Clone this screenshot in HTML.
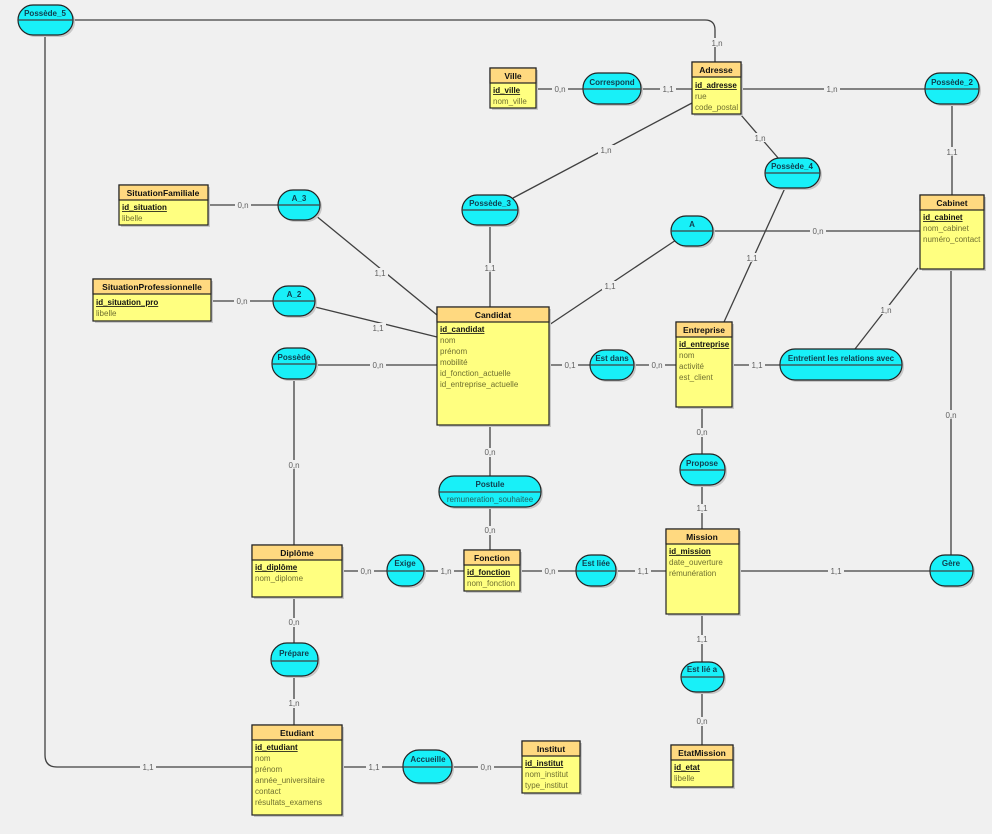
<!DOCTYPE html>
<html><head><meta charset="utf-8"><style>
html,body{margin:0;padding:0;background:#f0f0f0;}
svg{display:block;font-family:"Liberation Sans",sans-serif;}
.ln{stroke:#404040;stroke-width:1.3;fill:none}
.lb{font-size:8px;fill:#606060;text-anchor:middle}
.eh{fill:#ffd980;stroke:#222;stroke-width:1.2}
.eb{fill:#ffff80;stroke:#222;stroke-width:1.2}
.et{font-size:8.5px;font-weight:bold;fill:#111;text-anchor:middle}
.pk{font-size:8px;font-weight:bold;fill:#111;text-decoration:underline}
.at{font-size:8px;fill:#707030}
.rl{fill:#18f0f8;stroke:#222;stroke-width:1.2}
.rt{font-size:8px;font-weight:bold;fill:#104050;text-anchor:middle}
.sh{fill:#c8c8c8}
</style></head><body>
<svg width="992" height="834" viewBox="0 0 992 834">
<rect x="0" y="0" width="992" height="834" fill="#f0f0f0"/>
<!-- connectors -->
<g class="ln">
<path d="M73 20 H705 Q715 20 715 30 V62"/>
<path d="M45 35 V755 Q45 767 57 767 H252"/>
<path d="M536 89 H583"/><path d="M641 89 H692"/>
<path d="M741 89 H925"/><path d="M952 104 V195"/>
<path d="M741 115 L779 159"/><path d="M692 103 L513 198"/>
<path d="M490 225 V307"/><path d="M676 240 L549 325"/>
<path d="M713 231 H920"/><path d="M785 188 L724 322"/>
<path d="M918 268 L855 349"/><path d="M951 268 V555"/>
<path d="M315 215 L437 315"/><path d="M208 205 H278"/>
<path d="M211 301 H273"/><path d="M315 307 L437 337"/>
<path d="M316 365 H437"/><path d="M294 380 V545"/>
<path d="M549 365 H590"/><path d="M634 365 H676"/>
<path d="M732 365 H780"/><path d="M702 407 V454"/>
<path d="M702 485 V529"/><path d="M490 425 V476"/>
<path d="M490 507 V550"/><path d="M342 571 H387"/>
<path d="M424 571 H464"/><path d="M520 571 H576"/>
<path d="M616 571 H666"/><path d="M739 571 H930"/>
<path d="M702 614 V662"/><path d="M702 692 V745"/>
<path d="M294 597 V643"/><path d="M294 676 V725"/>
<path d="M342 767 H403"/><path d="M452 767 H522"/>
</g>
<!-- labels -->
<g>
<rect x="708" y="38" width="16" height="9" fill="#f0f0f0"/><text class="lb" x="717" y="46">1,n</text>
<rect x="140" y="763" width="16" height="9" fill="#f0f0f0"/><text class="lb" x="148" y="770">1,1</text>
<rect x="552" y="85" width="16" height="9" fill="#f0f0f0"/><text class="lb" x="560" y="92">0,n</text>
<rect x="660" y="85" width="16" height="9" fill="#f0f0f0"/><text class="lb" x="668" y="92">1,1</text>
<rect x="824" y="85" width="16" height="9" fill="#f0f0f0"/><text class="lb" x="832" y="92">1,n</text>
<rect x="944" y="147" width="16" height="9" fill="#f0f0f0"/><text class="lb" x="952" y="155">1,1</text>
<rect x="752" y="133" width="16" height="9" fill="#f0f0f0"/><text class="lb" x="760" y="141">1,n</text>
<rect x="598" y="145" width="16" height="9" fill="#f0f0f0"/><text class="lb" x="606" y="153">1,n</text>
<rect x="482" y="263" width="16" height="9" fill="#f0f0f0"/><text class="lb" x="490" y="271">1,1</text>
<rect x="602" y="281" width="16" height="9" fill="#f0f0f0"/><text class="lb" x="610" y="289">1,1</text>
<rect x="810" y="227" width="16" height="9" fill="#f0f0f0"/><text class="lb" x="818" y="234">0,n</text>
<rect x="744" y="253" width="16" height="9" fill="#f0f0f0"/><text class="lb" x="752" y="261">1,1</text>
<rect x="878" y="305" width="16" height="9" fill="#f0f0f0"/><text class="lb" x="886" y="313">1,n</text>
<rect x="943" y="410" width="16" height="9" fill="#f0f0f0"/><text class="lb" x="951" y="418">0,n</text>
<rect x="372" y="268" width="16" height="9" fill="#f0f0f0"/><text class="lb" x="380" y="276">1,1</text>
<rect x="235" y="201" width="16" height="9" fill="#f0f0f0"/><text class="lb" x="243" y="208">0,n</text>
<rect x="234" y="297" width="16" height="9" fill="#f0f0f0"/><text class="lb" x="242" y="304">0,n</text>
<rect x="370" y="323" width="16" height="9" fill="#f0f0f0"/><text class="lb" x="378" y="331">1,1</text>
<rect x="370" y="361" width="16" height="9" fill="#f0f0f0"/><text class="lb" x="378" y="368">0,n</text>
<rect x="286" y="460" width="16" height="9" fill="#f0f0f0"/><text class="lb" x="294" y="468">0,n</text>
<rect x="562" y="361" width="16" height="9" fill="#f0f0f0"/><text class="lb" x="570" y="368">0,1</text>
<rect x="649" y="361" width="16" height="9" fill="#f0f0f0"/><text class="lb" x="657" y="368">0,n</text>
<rect x="749" y="361" width="16" height="9" fill="#f0f0f0"/><text class="lb" x="757" y="368">1,1</text>
<rect x="694" y="428" width="16" height="9" fill="#f0f0f0"/><text class="lb" x="702" y="435">0,n</text>
<rect x="694" y="504" width="16" height="9" fill="#f0f0f0"/><text class="lb" x="702" y="511">1,1</text>
<rect x="482" y="448" width="16" height="9" fill="#f0f0f0"/><text class="lb" x="490" y="455">0,n</text>
<rect x="482" y="526" width="16" height="9" fill="#f0f0f0"/><text class="lb" x="490" y="533">0,n</text>
<rect x="358" y="567" width="16" height="9" fill="#f0f0f0"/><text class="lb" x="366" y="574">0,n</text>
<rect x="438" y="567" width="16" height="9" fill="#f0f0f0"/><text class="lb" x="446" y="574">1,n</text>
<rect x="542" y="567" width="16" height="9" fill="#f0f0f0"/><text class="lb" x="550" y="574">0,n</text>
<rect x="635" y="567" width="16" height="9" fill="#f0f0f0"/><text class="lb" x="643" y="574">1,1</text>
<rect x="828" y="567" width="16" height="9" fill="#f0f0f0"/><text class="lb" x="836" y="574">1,1</text>
<rect x="694" y="635" width="16" height="9" fill="#f0f0f0"/><text class="lb" x="702" y="642">1,1</text>
<rect x="694" y="717" width="16" height="9" fill="#f0f0f0"/><text class="lb" x="702" y="724">0,n</text>
<rect x="286" y="618" width="16" height="9" fill="#f0f0f0"/><text class="lb" x="294" y="625">0,n</text>
<rect x="286" y="699" width="16" height="9" fill="#f0f0f0"/><text class="lb" x="294" y="706">1,n</text>
<rect x="366" y="763" width="16" height="9" fill="#f0f0f0"/><text class="lb" x="374" y="770">1,1</text>
<rect x="478" y="763" width="16" height="9" fill="#f0f0f0"/><text class="lb" x="486" y="770">0,n</text>
</g>
<!-- entities -->
<g>
<!-- Ville -->
<rect class="sh" x="492" y="70" width="46" height="40"/>
<rect class="eb" x="490" y="68" width="46" height="40"/><rect class="eh" x="490" y="68" width="46" height="15"/>
<text class="et" x="513" y="79">Ville</text><text class="pk" x="493" y="93">id_ville</text><text class="at" x="493" y="104">nom_ville</text>
<!-- Adresse -->
<rect class="sh" x="694" y="64" width="49" height="52"/>
<rect class="eb" x="692" y="62" width="49" height="52"/><rect class="eh" x="692" y="62" width="49" height="15"/>
<text class="et" x="716" y="73">Adresse</text><text class="pk" x="695" y="88">id_adresse</text><text class="at" x="695" y="99">rue</text><text class="at" x="695" y="110">code_postal</text>
<!-- Cabinet -->
<rect class="sh" x="922" y="197" width="64" height="74"/>
<rect class="eb" x="920" y="195" width="64" height="74"/><rect class="eh" x="920" y="195" width="64" height="15"/>
<text class="et" x="952" y="206">Cabinet</text><text class="pk" x="923" y="220">id_cabinet</text><text class="at" x="923" y="231">nom_cabinet</text><text class="at" x="923" y="242">numéro_contact</text>
<!-- SituationFamiliale -->
<rect class="sh" x="121" y="187" width="89" height="40"/>
<rect class="eb" x="119" y="185" width="89" height="40"/><rect class="eh" x="119" y="185" width="89" height="15"/>
<text class="et" x="163" y="196">SituationFamiliale</text><text class="pk" x="122" y="210">id_situation</text><text class="at" x="122" y="221">libelle</text>
<!-- SituationProfessionnelle -->
<rect class="sh" x="95" y="281" width="118" height="42"/>
<rect class="eb" x="93" y="279" width="118" height="42"/><rect class="eh" x="93" y="279" width="118" height="15"/>
<text class="et" x="152" y="290">SituationProfessionnelle</text><text class="pk" x="96" y="305">id_situation_pro</text><text class="at" x="96" y="316">libelle</text>
<!-- Candidat -->
<rect class="sh" x="439" y="309" width="112" height="118"/>
<rect class="eb" x="437" y="307" width="112" height="118"/><rect class="eh" x="437" y="307" width="112" height="15"/>
<text class="et" x="493" y="318">Candidat</text><text class="pk" x="440" y="332">id_candidat</text>
<text class="at" x="440" y="343">nom</text><text class="at" x="440" y="354">prénom</text><text class="at" x="440" y="365">mobilité</text><text class="at" x="440" y="376">id_fonction_actuelle</text><text class="at" x="440" y="387">id_entreprise_actuelle</text>
<!-- Entreprise -->
<rect class="sh" x="678" y="324" width="56" height="85"/>
<rect class="eb" x="676" y="322" width="56" height="85"/><rect class="eh" x="676" y="322" width="56" height="15"/>
<text class="et" x="704" y="333">Entreprise</text><text class="pk" x="679" y="347">id_entreprise</text><text class="at" x="679" y="358">nom</text><text class="at" x="679" y="369">activité</text><text class="at" x="679" y="380">est_client</text>
<!-- Diplôme -->
<rect class="sh" x="254" y="547" width="90" height="52"/>
<rect class="eb" x="252" y="545" width="90" height="52"/><rect class="eh" x="252" y="545" width="90" height="15"/>
<text class="et" x="297" y="556">Diplôme</text><text class="pk" x="255" y="570">id_diplôme</text><text class="at" x="255" y="581">nom_diplome</text>
<!-- Fonction -->
<rect class="sh" x="466" y="552" width="56" height="41"/>
<rect class="eb" x="464" y="550" width="56" height="41"/><rect class="eh" x="464" y="550" width="56" height="15"/>
<text class="et" x="492" y="561">Fonction</text><text class="pk" x="467" y="575">id_fonction</text><text class="at" x="467" y="586">nom_fonction</text>
<!-- Mission -->
<rect class="sh" x="668" y="531" width="73" height="85"/>
<rect class="eb" x="666" y="529" width="73" height="85"/><rect class="eh" x="666" y="529" width="73" height="15"/>
<text class="et" x="702" y="540">Mission</text><text class="pk" x="669" y="554">id_mission</text><text class="at" x="669" y="565">date_ouverture</text><text class="at" x="669" y="576">rémunération</text>
<!-- Etudiant -->
<rect class="sh" x="254" y="727" width="90" height="90"/>
<rect class="eb" x="252" y="725" width="90" height="90"/><rect class="eh" x="252" y="725" width="90" height="15"/>
<text class="et" x="297" y="736">Etudiant</text><text class="pk" x="255" y="750">id_etudiant</text>
<text class="at" x="255" y="761">nom</text><text class="at" x="255" y="772">prénom</text><text class="at" x="255" y="783">année_universitaire</text><text class="at" x="255" y="794">contact</text><text class="at" x="255" y="805">résultats_examens</text>
<!-- Institut -->
<rect class="sh" x="524" y="743" width="58" height="52"/>
<rect class="eb" x="522" y="741" width="58" height="52"/><rect class="eh" x="522" y="741" width="58" height="15"/>
<text class="et" x="551" y="752">Institut</text><text class="pk" x="525" y="766">id_institut</text><text class="at" x="525" y="777">nom_institut</text><text class="at" x="525" y="788">type_institut</text>
<!-- EtatMission -->
<rect class="sh" x="673" y="747" width="62" height="42"/>
<rect class="eb" x="671" y="745" width="62" height="42"/><rect class="eh" x="671" y="745" width="62" height="15"/>
<text class="et" x="702" y="756">EtatMission</text><text class="pk" x="674" y="770">id_etat</text><text class="at" x="674" y="781">libelle</text>
</g>
<!-- relations -->
<g>
<rect class="sh" x="20" y="7" width="55" height="30" rx="15"/><rect class="rl" x="18" y="5" width="55" height="30" rx="15"/><line class="ln" x1="18" y1="20" x2="73" y2="20"/><text class="rt" x="45" y="16">Possède_5</text>
<rect class="sh" x="585" y="75" width="58" height="31" rx="15"/><rect class="rl" x="583" y="73" width="58" height="31" rx="15"/><line class="ln" x1="583" y1="89" x2="641" y2="89"/><text class="rt" x="612" y="85">Correspond</text>
<rect class="sh" x="927" y="75" width="54" height="31" rx="15"/><rect class="rl" x="925" y="73" width="54" height="31" rx="15"/><line class="ln" x1="925" y1="89" x2="979" y2="89"/><text class="rt" x="952" y="85">Possède_2</text>
<rect class="sh" x="767" y="160" width="55" height="30" rx="15"/><rect class="rl" x="765" y="158" width="55" height="30" rx="15"/><line class="ln" x1="765" y1="173" x2="820" y2="173"/><text class="rt" x="792" y="169">Possède_4</text>
<rect class="sh" x="464" y="197" width="56" height="30" rx="15"/><rect class="rl" x="462" y="195" width="56" height="30" rx="15"/><line class="ln" x1="462" y1="210" x2="518" y2="210"/><text class="rt" x="490" y="206">Possède_3</text>
<rect class="sh" x="673" y="218" width="42" height="30" rx="15"/><rect class="rl" x="671" y="216" width="42" height="30" rx="15"/><line class="ln" x1="671" y1="231" x2="713" y2="231"/><text class="rt" x="692" y="227">A</text>
<rect class="sh" x="280" y="192" width="42" height="30" rx="15"/><rect class="rl" x="278" y="190" width="42" height="30" rx="15"/><line class="ln" x1="278" y1="205" x2="320" y2="205"/><text class="rt" x="299" y="201">A_3</text>
<rect class="sh" x="275" y="288" width="42" height="30" rx="15"/><rect class="rl" x="273" y="286" width="42" height="30" rx="15"/><line class="ln" x1="273" y1="301" x2="315" y2="301"/><text class="rt" x="294" y="297">A_2</text>
<rect class="sh" x="274" y="350" width="44" height="31" rx="15"/><rect class="rl" x="272" y="348" width="44" height="31" rx="15"/><line class="ln" x1="272" y1="364" x2="316" y2="364"/><text class="rt" x="294" y="360">Possède</text>
<rect class="sh" x="592" y="352" width="44" height="30" rx="15"/><rect class="rl" x="590" y="350" width="44" height="30" rx="15"/><line class="ln" x1="590" y1="365" x2="634" y2="365"/><text class="rt" x="612" y="361">Est dans</text>
<rect class="sh" x="782" y="351" width="122" height="31" rx="15"/><rect class="rl" x="780" y="349" width="122" height="31" rx="15"/><line class="ln" x1="780" y1="365" x2="902" y2="365"/><text class="rt" x="841" y="361">Entretient les relations avec</text>
<rect class="sh" x="682" y="456" width="45" height="31" rx="15"/><rect class="rl" x="680" y="454" width="45" height="31" rx="15"/><line class="ln" x1="680" y1="470" x2="725" y2="470"/><text class="rt" x="702" y="466">Propose</text>
<rect class="sh" x="441" y="478" width="102" height="31" rx="15"/><rect class="rl" x="439" y="476" width="102" height="31" rx="15"/><line class="ln" x1="439" y1="492" x2="541" y2="492"/><text class="rt" x="490" y="487">Postule</text><text class="at" x="490" y="502" text-anchor="middle" style="fill:#206060">remuneration_souhaitee</text>
<rect class="sh" x="389" y="557" width="37" height="31" rx="15"/><rect class="rl" x="387" y="555" width="37" height="31" rx="15"/><line class="ln" x1="387" y1="571" x2="424" y2="571"/><text class="rt" x="405" y="566">Exige</text>
<rect class="sh" x="578" y="557" width="40" height="31" rx="15"/><rect class="rl" x="576" y="555" width="40" height="31" rx="15"/><line class="ln" x1="576" y1="571" x2="616" y2="571"/><text class="rt" x="596" y="566">Est liée</text>
<rect class="sh" x="932" y="557" width="43" height="31" rx="15"/><rect class="rl" x="930" y="555" width="43" height="31" rx="15"/><line class="ln" x1="930" y1="571" x2="973" y2="571"/><text class="rt" x="951" y="566">Gère</text>
<rect class="sh" x="273" y="645" width="47" height="33" rx="16"/><rect class="rl" x="271" y="643" width="47" height="33" rx="16"/><line class="ln" x1="271" y1="661" x2="318" y2="661"/><text class="rt" x="294" y="656">Prépare</text>
<rect class="sh" x="683" y="664" width="43" height="30" rx="15"/><rect class="rl" x="681" y="662" width="43" height="30" rx="15"/><line class="ln" x1="681" y1="677" x2="724" y2="677"/><text class="rt" x="702" y="672">Est lié a</text>
<rect class="sh" x="405" y="752" width="49" height="33" rx="16"/><rect class="rl" x="403" y="750" width="49" height="33" rx="16"/><line class="ln" x1="403" y1="767" x2="452" y2="767"/><text class="rt" x="428" y="762">Accueille</text>
</g>
</svg>
</body></html>
